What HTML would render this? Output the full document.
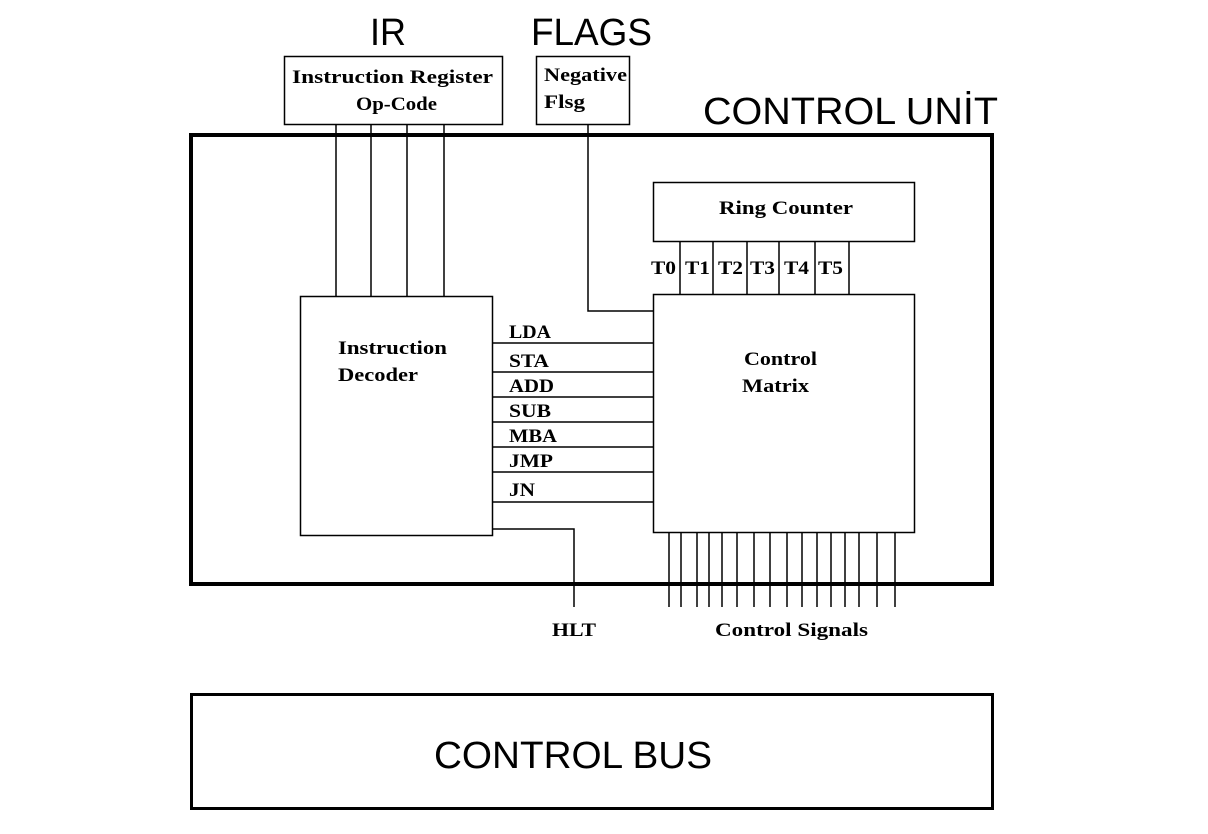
<!DOCTYPE html>
<html><head><meta charset="utf-8"><style>html,body{margin:0;padding:0;background:#fff}svg{display:block}</style></head>
<body>
<svg width="1208" height="834" viewBox="0 0 1208 834" xmlns="http://www.w3.org/2000/svg">
<g fill="none" stroke="#000">
<rect x="191" y="135" width="801" height="449" stroke-width="4"/>
<rect x="191.5" y="694.5" width="801" height="114" stroke-width="3"/>
<g stroke-width="1.5">
<rect x="284.5" y="56.5" width="218" height="68"/>
<rect x="536.5" y="56.5" width="93" height="68"/>
<rect x="300.5" y="296.5" width="192" height="239"/>
<rect x="653.5" y="182.5" width="261" height="59"/>
<rect x="653.5" y="294.5" width="261" height="238"/>
<path d="M336 124V296M371 124V296M407 124V296M444 124V296"/>
<path d="M588 124V311H653"/>
<path d="M680 241V294M713 241V294M747 241V294M779 241V294M815 241V294M849 241V294"/>
<path d="M492 343H653M492 372H653M492 397H653M492 422H653M492 447H653M492 472H653M492 502H653"/>
<path d="M492 529H574V607"/>
<path d="M669 532V607M681 532V607M697 532V607M709 532V607M722 532V607M737 532V607M754 532V607M770 532V607M787 532V607M802 532V607M817 532V607M831 532V607M845 532V607M859 532V607M877 532V607M895 532V607"/>
</g>
</g>
<g font-family="Liberation Sans, sans-serif" font-size="38" fill="#000" lengthAdjust="spacingAndGlyphs">
<text x="370" y="45" textLength="36" lengthAdjust="spacingAndGlyphs">IR</text>
<text x="531" y="45" textLength="121" lengthAdjust="spacingAndGlyphs">FLAGS</text>
<text x="703" y="124" textLength="295" lengthAdjust="spacingAndGlyphs">CONTROL UNİT</text>
<text x="434" y="768" textLength="278" lengthAdjust="spacingAndGlyphs">CONTROL BUS</text>
</g>
<g font-family="Liberation Serif, serif" font-weight="bold" font-size="19" fill="#000">
<text x="292" y="83" textLength="201" lengthAdjust="spacingAndGlyphs">Instruction Register</text>
<text x="356" y="110" textLength="81" lengthAdjust="spacingAndGlyphs">Op-Code</text>
<text x="544" y="81" textLength="83" lengthAdjust="spacingAndGlyphs">Negative</text>
<text x="544" y="108" textLength="41" lengthAdjust="spacingAndGlyphs">Flsg</text>
<text x="338" y="354" textLength="109" lengthAdjust="spacingAndGlyphs">Instruction</text>
<text x="338" y="381" textLength="80" lengthAdjust="spacingAndGlyphs">Decoder</text>
<text x="719" y="214" textLength="134" lengthAdjust="spacingAndGlyphs">Ring Counter</text>
<text x="744" y="365" textLength="73" lengthAdjust="spacingAndGlyphs">Control</text>
<text x="742" y="392" textLength="67" lengthAdjust="spacingAndGlyphs">Matrix</text>
<text x="651" y="274" textLength="25" lengthAdjust="spacingAndGlyphs">T0</text>
<text x="685" y="274" textLength="25" lengthAdjust="spacingAndGlyphs">T1</text>
<text x="718" y="274" textLength="25" lengthAdjust="spacingAndGlyphs">T2</text>
<text x="750" y="274" textLength="25" lengthAdjust="spacingAndGlyphs">T3</text>
<text x="784" y="274" textLength="25" lengthAdjust="spacingAndGlyphs">T4</text>
<text x="818" y="274" textLength="25" lengthAdjust="spacingAndGlyphs">T5</text>
<text x="509" y="338" textLength="42" lengthAdjust="spacingAndGlyphs">LDA</text>
<text x="509" y="367" textLength="40" lengthAdjust="spacingAndGlyphs">STA</text>
<text x="509" y="392" textLength="45" lengthAdjust="spacingAndGlyphs">ADD</text>
<text x="509" y="417" textLength="42" lengthAdjust="spacingAndGlyphs">SUB</text>
<text x="509" y="442" textLength="48" lengthAdjust="spacingAndGlyphs">MBA</text>
<text x="509" y="467" textLength="44" lengthAdjust="spacingAndGlyphs">JMP</text>
<text x="509" y="496" textLength="26" lengthAdjust="spacingAndGlyphs">JN</text>
<text x="552" y="636" textLength="44" lengthAdjust="spacingAndGlyphs">HLT</text>
<text x="715" y="636" textLength="153" lengthAdjust="spacingAndGlyphs">Control Signals</text>
</g>
</svg>
</body></html>
